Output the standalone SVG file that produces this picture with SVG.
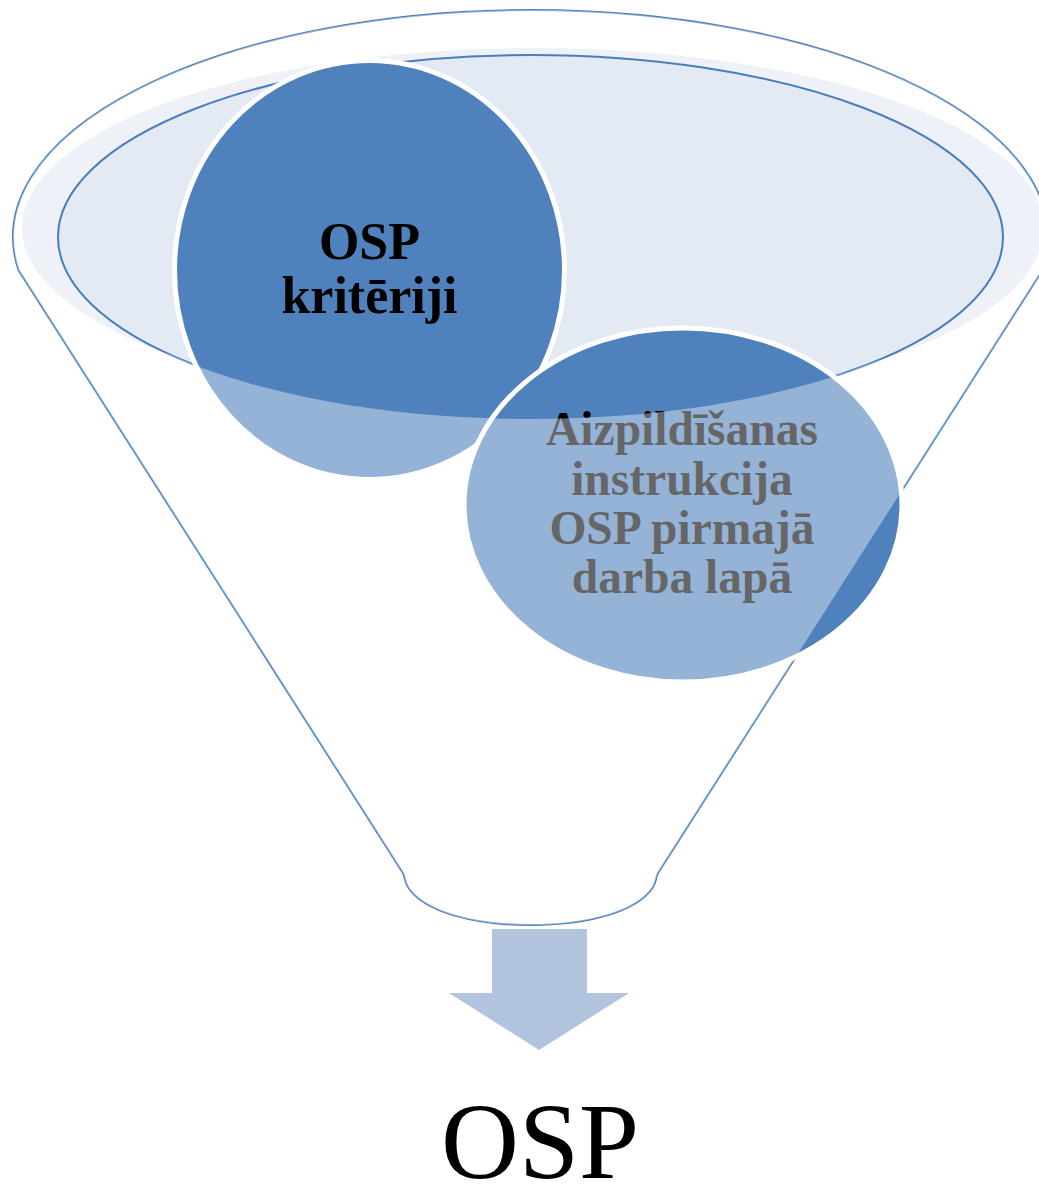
<svg xmlns="http://www.w3.org/2000/svg" width="1039" height="1184" viewBox="0 0 1039 1184">
  <style>
    .line { fill: none; stroke: #4A7EBB; stroke-width: 2; }
    .bubble { fill: #4F81BD; stroke: #FFFFFF; stroke-width: 5; }
    .t1 { font-family: "Liberation Serif", "Times New Roman", serif; font-weight: bold; font-size: 52px; fill: #000000; text-anchor: middle; }
    .t2 { font-family: "Liberation Serif", "Times New Roman", serif; font-weight: bold; font-size: 47.5px; fill: #000000; text-anchor: middle; }
    .t3 { font-family: "Liberation Serif", "Times New Roman", serif; font-size: 108px; fill: #000000; text-anchor: middle; }
  </style>
  <defs>
    <path id="funnelPath" d="M18.5,270 A517.5,227 0 1,1 1042.5,270 L658,873 C656,877 656,882 653,887 C637,912 587,925 530.5,925 C474,925 424,912 408,887 C405,882 405,877 403,873 Z"/>
    <mask id="bodyMask" maskUnits="userSpaceOnUse" x="0" y="0" width="1039" height="1184">
      <use href="#funnelPath" fill="#FFFFFF"/>
      <ellipse cx="530.5" cy="237" rx="472.5" ry="182" fill="#000000"/>
      <ellipse cx="533" cy="228" rx="511" ry="180" fill="#000000"/>
    </mask>
  </defs>
  <rect width="1039" height="1184" fill="#FFFFFF"/>

  <g id="funnel">
    <use href="#funnelPath" fill="#FFFFFF"/>
    <ellipse cx="533" cy="228" rx="511" ry="180" fill="#EEF2F8"/>
    <ellipse cx="530.5" cy="237" rx="472.5" ry="182" class="line" style="fill:#E4EAF3"/>
    <use href="#funnelPath" class="line"/>
  </g>

  <g id="osp-kriteriji">
    <ellipse class="bubble" cx="369.5" cy="270" rx="195" ry="209.5"/>
    <text class="t1" x="369.5" y="259">OSP</text>
    <text class="t1" x="369.5" y="313">kritēriji</text>
  </g>

  <g id="aizpildisanas-instrukcija">
    <ellipse class="bubble" cx="683" cy="505" rx="219" ry="177"/>
    <text class="t2" x="682" y="445">Aizpildīšanas</text>
    <text class="t2" x="682" y="494.5">instrukcija</text>
    <text class="t2" x="682" y="544">OSP pirmajā</text>
    <text class="t2" x="682" y="593">darba lapā</text>
  </g>

  <g id="funnel-body">
    <rect x="0" y="0" width="1039" height="1184" fill="#FFFFFF" fill-opacity="0.4" mask="url(#bodyMask)"/>
  </g>

  <g id="connectors">
    <path d="M492,929 L587,929 L587,993 L629,993 L539,1050 L449,993 L492,993 Z" fill="#B2C3DE"/>
  </g>

  <g id="osp-output">
    <text class="t3" x="540" y="1178">OSP</text>
  </g>
</svg>
